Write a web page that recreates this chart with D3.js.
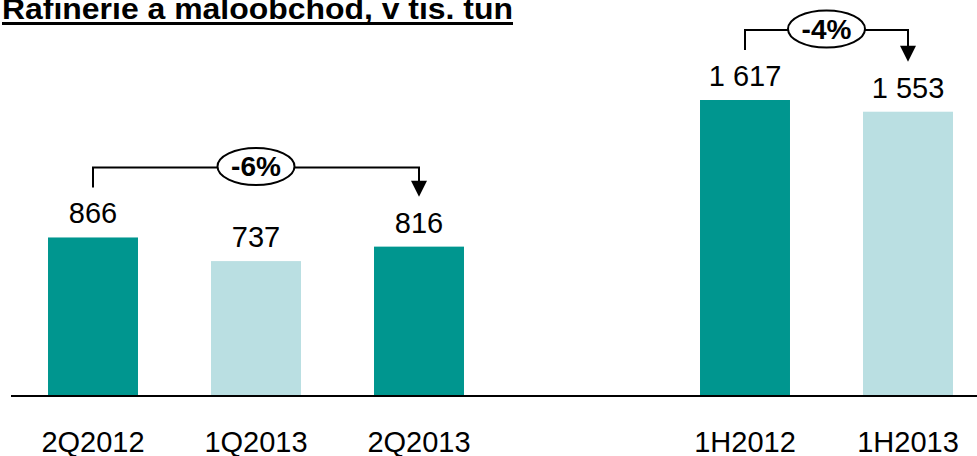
<!DOCTYPE html>
<html>
<head>
<meta charset="utf-8">
<script src="https://cdn.jsdelivr.net/npm/d3@7"></script>
<style>
  body { margin: 0; background: #fff; }
  svg { display: block; font-family: Arial, "Liberation Sans", sans-serif; }
</style>
</head>
<body>
<svg id="chart"></svg>
<script>
const categories = ['2Q2012', '1Q2013', '2Q2013', '', '1H2012', '1H2013'];
const values = [866, 737, 816, null, 1617, 1553];
const barTypes = ['dark', 'light', 'dark', null, 'dark', 'light'];
// comparison brackets: from bar index to bar index
const changes = [
  { from: 0, to: 2, label: '-6%' },
  { from: 4, to: 5, label: '-4%' }
];
const title = 'Rafinerie a maloobchod, v tis. tun';

const width = 977;
const height = 456;
const baseline = 396;
const colors = { dark: '#00968f', light: '#badfe2' };

const svg = d3.select('#chart')
  .attr('width', width)
  .attr('height', height);

// scales
const x = d3.scaleBand()
  .domain(d3.range(categories.length))
  .range([11.5, 989.5])
  .paddingInner(0.448)
  .paddingOuter(0.224);

const y = d3.scaleLinear()
  .domain([0, d3.max(values)])
  .range([baseline, 100]);

const fmt = d3.formatLocale({ decimal: ',', thousands: ' ', grouping: [3], currency: ['', ''] }).format(',');

const data = values.map((v, i) => ({ i, v, cat: categories[i], type: barTypes[i] }))
  .filter(d => d.v !== null);

// title
svg.append('text')
  .attr('x', 2)
  .attr('y', 19)
  .attr('textLength', 511)
  .attr('lengthAdjust', 'spacingAndGlyphs')
  .style('font-size', '30px')
  .style('font-weight', 'bold')
  .attr('fill', '#000')
  .text(title);
svg.append('line')
  .attr('x1', 2).attr('x2', 513)
  .attr('y1', 23.5).attr('y2', 23.5)
  .attr('stroke', '#000')
  .attr('stroke-width', 3);

// bars
svg.selectAll('rect.bar')
  .data(data)
  .enter().append('rect')
  .attr('class', 'bar')
  .attr('x', d => x(d.i))
  .attr('y', d => y(d.v))
  .attr('width', x.bandwidth())
  .attr('height', d => baseline - y(d.v))
  .attr('fill', d => colors[d.type]);

// value labels
svg.selectAll('text.val')
  .data(data)
  .enter().append('text')
  .attr('class', 'val')
  .attr('x', d => x(d.i) + x.bandwidth() / 2)
  .attr('y', d => y(d.v) - 14)
  .attr('text-anchor', 'middle')
  .style('font-size', '29px')
  .attr('fill', '#000')
  .text(d => fmt(d.v));

// axis line + category labels
const xAxis = d3.axisBottom(x)
  .tickSize(0)
  .tickPadding(0)
  .tickFormat(i => categories[i]);

const axisG = svg.append('g')
  .attr('transform', `translate(0, ${baseline})`)
  .call(xAxis);
axisG.select('.domain')
  .attr('d', `M11,0H${width}`)
  .attr('stroke', '#000')
  .attr('stroke-width', 2);
axisG.selectAll('.tick text')
  .attr('y', 56)
  .attr('dy', 0)
  .style('font-size', '29px')
  .style('font-family', 'Arial, "Liberation Sans", sans-serif')
  .attr('fill', '#000');

// change brackets
changes.forEach(c => {
  const x1 = x(c.from) + x.bandwidth() / 2;
  const x2 = x(c.to) + x.bandwidth() / 2;
  const yFrom = y(values[c.from]) - 50;
  const yTo = y(values[c.to]) - 50;
  const yTop = Math.min(y(values[c.from]), y(values[c.to])) - 70;
  const g = svg.append('g');
  g.append('path')
    .attr('d', `M${x1},${yFrom}V${yTop}H${x2}V${yTo - 14}`)
    .attr('fill', 'none')
    .attr('stroke', '#000')
    .attr('stroke-width', 2);
  g.append('path')
    .attr('d', `M${x2 - 8},${yTo - 16}L${x2 + 8},${yTo - 16}L${x2},${yTo}Z`)
    .attr('fill', '#000');
  const cx = (x1 + x2) / 2;
  g.append('ellipse')
    .attr('cx', cx)
    .attr('cy', yTop - 1)
    .attr('rx', 38.5)
    .attr('ry', 18.5)
    .attr('fill', '#fff')
    .attr('stroke', '#000')
    .attr('stroke-width', 2);
  g.append('text')
    .attr('x', cx)
    .attr('y', yTop + 9)
    .attr('text-anchor', 'middle')
    .style('font-size', '28px')
    .style('font-weight', 'bold')
    .attr('fill', '#000')
    .text(c.label);
});
</script>
</body>
</html>
